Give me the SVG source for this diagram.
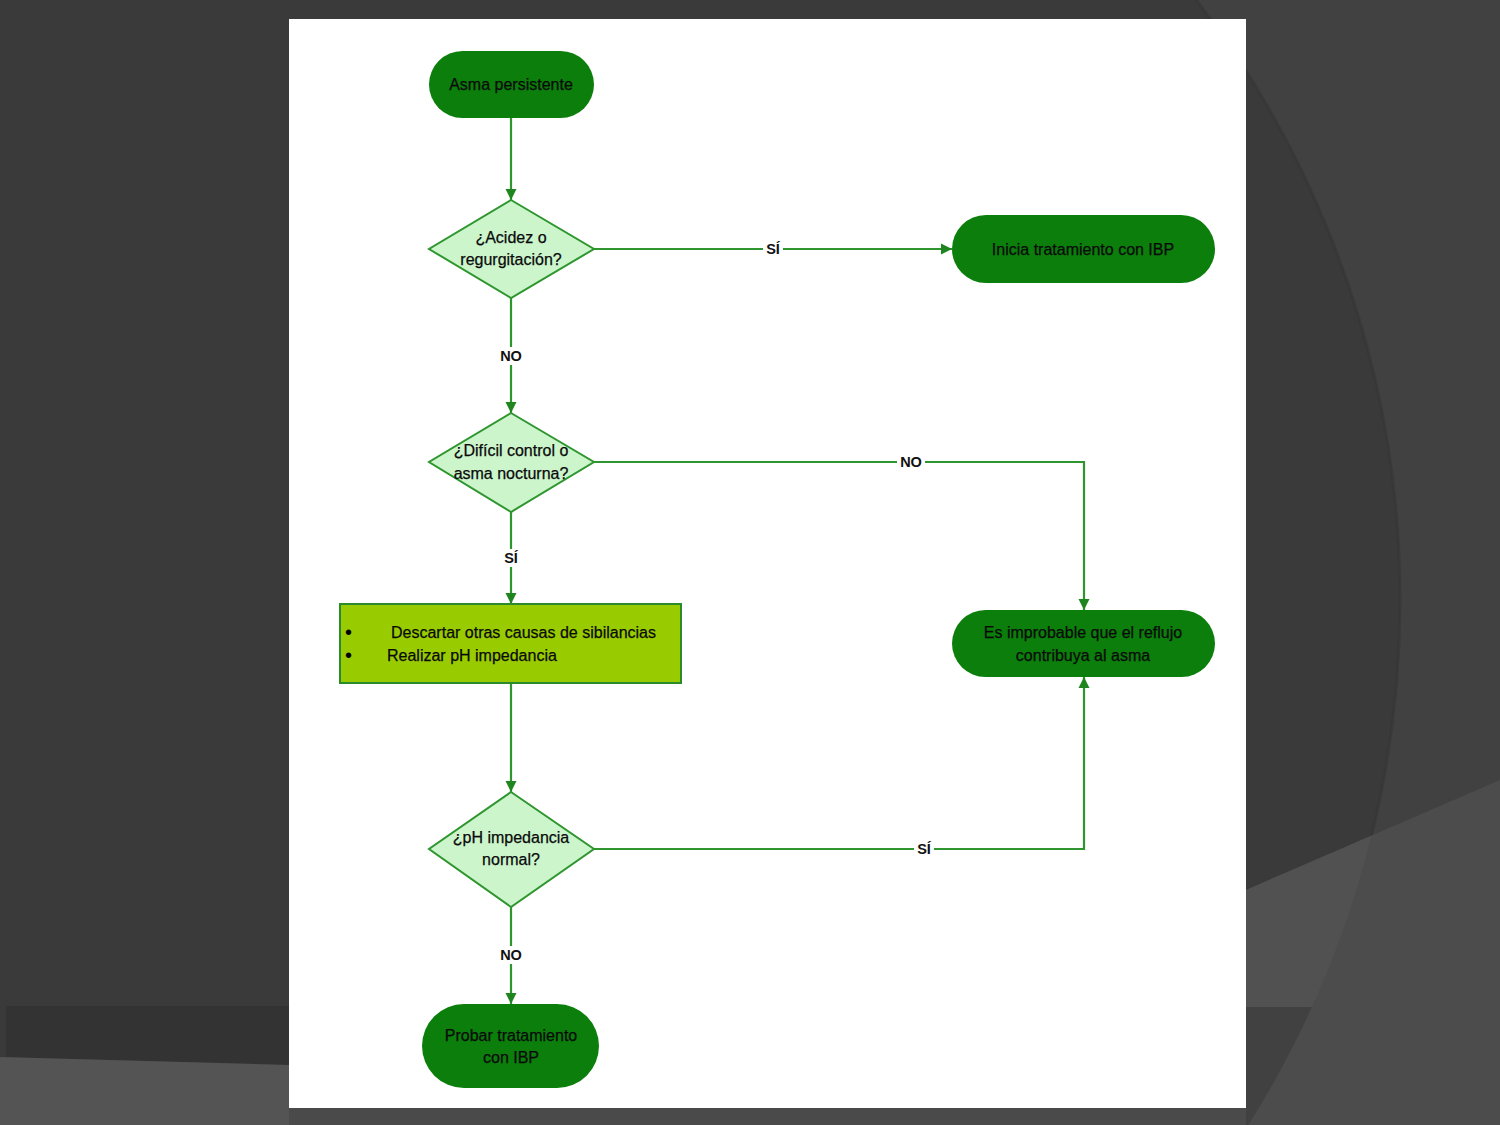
<svg xmlns="http://www.w3.org/2000/svg" width="1500" height="1125" viewBox="0 0 1500 1125">
<defs>
<style>
.term{fill:#0b7e0b;}
.dia{fill:#ccf5cc;stroke:#2f962f;stroke-width:2;}
.box{fill:#99cc00;stroke:#2b8a2b;stroke-width:2;}
.t{font-family:"Liberation Sans",Arial,sans-serif;font-size:16px;fill:#0a0a0a;stroke:#0a0a0a;stroke-width:0.25;}
.c{text-anchor:middle;}
.bul{font-family:"Liberation Sans",Arial,sans-serif;font-size:20px;fill:#000;}
.lbl{font-family:"Liberation Sans",Arial,sans-serif;font-size:14.5px;font-weight:bold;fill:#111;text-anchor:middle;}
.conn{fill:none;stroke:#2f962f;stroke-width:2.2;}
.lb{fill:#fff;}
</style>
<marker id="arr" markerUnits="userSpaceOnUse" markerWidth="12" markerHeight="12" refX="11" refY="6" orient="auto">
<path d="M0,0.5 L11,6 L0,11.5 z" fill="#1f861f"/>
</marker>
<clipPath id="circ"><circle cx="415" cy="600" r="985"/></clipPath>
</defs>
<g id="background">
<rect x="0" y="0" width="1500" height="1125" fill="#414141"/>
<circle cx="415" cy="600" r="985" fill="#3a3a3a"/>
<circle cx="415" cy="600" r="985" fill="none" stroke="#353535" stroke-width="3" opacity="0.6"/>
<polygon points="1246,890 1500,780 1500,1125 1246,1125" fill="#4c4c4c"/>
<polygon points="1246,890 1500,780 1500,1125 1246,1125" fill="#515151" clip-path="url(#circ)"/>
<rect x="1246" y="1007" width="254" height="118" fill="#414141" clip-path="url(#circ)"/>
<polygon points="6,1006 289,1006 289,1065 6,1057" fill="#333333"/>
<polygon points="0,1057 289,1065 289,1125 0,1125" fill="#545454"/>
<rect x="289" y="1060" width="957" height="65" fill="#4a4a4a"/>
</g>
<rect id="panel" x="289" y="19" width="957" height="1089" fill="#ffffff"/>
<g id="connectors">
<path class="conn" d="M511,118 V200" marker-end="url(#arr)"/>
<path class="conn" d="M594,249 H952" marker-end="url(#arr)"/>
<path class="conn" d="M511,298 V413" marker-end="url(#arr)"/>
<path class="conn" d="M594,462 H1084 V610" marker-end="url(#arr)"/>
<path class="conn" d="M511,512 V604" marker-end="url(#arr)"/>
<path class="conn" d="M511,683 V792" marker-end="url(#arr)"/>
<path class="conn" d="M594,849 H1084 V677" marker-end="url(#arr)"/>
<path class="conn" d="M511,907 V1004" marker-end="url(#arr)"/>
<rect class="lb" x="763" y="240" width="20" height="18"/>
<text class="lbl" x="773" y="254">SÍ</text>
<rect class="lb" x="497" y="347" width="28" height="18"/>
<text class="lbl" x="511" y="361">NO</text>
<rect class="lb" x="897" y="453" width="28" height="18"/>
<text class="lbl" x="911" y="467">NO</text>
<rect class="lb" x="501" y="549" width="20" height="18"/>
<text class="lbl" x="511" y="563">SÍ</text>
<rect class="lb" x="914" y="840" width="20" height="18"/>
<text class="lbl" x="924" y="854">SÍ</text>
<rect class="lb" x="497" y="946" width="28" height="18"/>
<text class="lbl" x="511" y="960">NO</text>
</g>
<g id="n-asma">
<rect class="term" x="429" y="51" width="165" height="67" rx="33.5"/>
<text class="t c" x="511" y="90">Asma persistente</text>
</g>
<g id="n-acidez">
<polygon class="dia" points="511,200 594,249 511,298 429,249"/>
<text class="t c" x="511" y="243">¿Acidez o</text>
<text class="t c" x="511" y="265">regurgitación?</text>
</g>
<g id="n-inicia">
<rect class="term" x="952" y="215" width="263" height="68" rx="34"/>
<text class="t c" x="1083" y="255">Inicia tratamiento con IBP</text>
</g>
<g id="n-dificil">
<polygon class="dia" points="511,413 594,462 511,512 429,462"/>
<text class="t c" x="511" y="456">¿Difícil control o</text>
<text class="t c" x="511" y="479">asma nocturna?</text>
</g>
<g id="n-improbable">
<rect class="term" x="952" y="610" width="263" height="67" rx="33.5"/>
<text class="t c" x="1083" y="638">Es improbable que el reflujo</text>
<text class="t c" x="1083" y="661">contribuya al asma</text>
</g>
<g id="n-descartar">
<rect class="box" x="340" y="604" width="341" height="79"/>
<text class="bul" x="345" y="639">•</text>
<text class="t" x="391" y="638">Descartar otras causas de sibilancias</text>
<text class="bul" x="345" y="662">•</text>
<text class="t" x="387" y="661">Realizar pH impedancia</text>
</g>
<g id="n-ph">
<polygon class="dia" points="511,792 594,849 511,907 429,849"/>
<text class="t c" x="511" y="843">¿pH impedancia</text>
<text class="t c" x="511" y="865">normal?</text>
</g>
<g id="n-probar">
<rect class="term" x="422" y="1004" width="177" height="84" rx="42"/>
<text class="t c" x="511" y="1041">Probar tratamiento</text>
<text class="t c" x="511" y="1063">con IBP</text>
</g>
</svg>
